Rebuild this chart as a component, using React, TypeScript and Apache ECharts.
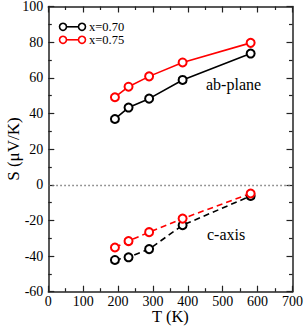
import React, { useEffect, useRef } from "react";
import * as echarts from "echarts";

const temps = [191, 230, 289, 385, 580];
const abX070 = [36.9, 43.3, 48.3, 58.8, 73.6];
const abX075 = [49.1, 55.0, 60.8, 68.6, 79.6];
const cX070 = [-42.2, -40.7, -36.1, -22.7, -6.3];
const cX075 = [-35.2, -31.6, -26.6, -19.0, -4.9];
const legendLabels = ["x=0.70", "x=0.75"];
const xTicks = [0, 100, 200, 300, 400, 500, 600, 700];

const FONT = "Liberation Serif";

function pairs(ys: number[]) {
  return temps.map((t, i) => [t, ys[i]]);
}

export default function App() {
  const ref = useRef<HTMLDivElement>(null);
  useEffect(() => {
    const chart = echarts.init(ref.current!, null, { renderer: "svg" });
    const axisLine = { show: true, onZero: false, lineStyle: { color: "#222", width: 1.5 } };
    const tickStyle = { inside: true, length: 6, lineStyle: { color: "#222", width: 1.2 } };
    const minorStyle = { show: true, splitNumber: 2, length: 3.5, lineStyle: { color: "#222", width: 1.2 } };
    const mk = (name: string, ys: number[], color: string, dashed: boolean, zero = false) => ({
      type: "line",
      name,
      data: pairs(ys),
      symbol: "emptyCircle",
      symbolSize: 8,
      showSymbol: true,
      lineStyle: { color, width: 1.6, type: dashed ? [6, 4] : "solid" },
      itemStyle: { color, borderColor: color, borderWidth: 1.6 },
      z: 3,
      markLine: zero
        ? {
            silent: true,
            symbol: "none",
            label: { show: false },
            lineStyle: { color: "#777", width: 1.4, type: [1.5, 2.5] },
            data: [{ yAxis: 0 }],
          }
        : undefined,
    });
    const legendGraphics: any[] = [];
    [["#000", 26.8], ["#ff0000", 39.8]].forEach(([c, y], i) => {
      legendGraphics.push({
        type: "line",
        shape: { x1: 63, y1: y as number, x2: 82, y2: y as number },
        style: { stroke: c as string, lineWidth: 1.6 },
      });
      [63, 82].forEach((cx) =>
        legendGraphics.push({
          type: "circle",
          shape: { cx, cy: y as number, r: 3.5 },
          style: { stroke: c as string, fill: "#fff", lineWidth: 1.6 },
        })
      );
      legendGraphics.push({
        type: "text",
        x: 89,
        y: y as number,
        style: {
          text: legendLabels[i],
          fill: "#000",
          fontFamily: FONT,
          fontSize: 12.5,
          lineHeight: 11,
          verticalAlign: "middle",
        },
      });
    });
    chart.setOption({
      animation: false,
      backgroundColor: "#fff",
      grid: {
        left: 48.3,
        right: 12.5,
        top: 6.5,
        bottom: 35.3,
        containLabel: false,
        outerBoundsMode: "none",
      },
      xAxis: [
        {
          type: "value",
          min: 0,
          max: 700,
          interval: 100,
          axisLine,
          axisTick: tickStyle,
          minorTick: minorStyle,
          splitLine: { show: false },
          axisLabel: {
            color: "#000",
            fontFamily: FONT,
            fontSize: 14,
            lineHeight: 12,
            margin: 4,
            formatter: (v: number) => (xTicks.includes(v) ? String(v) : ""),
          },
          name: "T (K)",
          nameLocation: "middle",
          nameGap: 18,
          nameMoveOverlap: false,
          nameTextStyle: { color: "#000", fontFamily: FONT, fontSize: 16.5, lineHeight: 14 },
        },
        {
          type: "value",
          position: "top",
          min: 0,
          max: 700,
          interval: 100,
          axisLine,
          axisTick: tickStyle,
          minorTick: minorStyle,
          splitLine: { show: false },
          axisLabel: { show: false },
        },
      ],
      yAxis: [
        {
          type: "value",
          min: -60,
          max: 100,
          interval: 20,
          axisLine,
          axisTick: tickStyle,
          minorTick: minorStyle,
          splitLine: { show: false },
          axisLabel: { color: "#000", fontFamily: FONT, fontSize: 14, margin: 5 },
          name: "S (μV/K)",
          nameLocation: "middle",
          nameGap: 26,
          nameMoveOverlap: false,
          nameTextStyle: { color: "#000", fontFamily: FONT, fontSize: 17 },
        },
        {
          type: "value",
          position: "right",
          min: -60,
          max: 100,
          interval: 20,
          axisLine,
          axisTick: tickStyle,
          minorTick: minorStyle,
          splitLine: { show: false },
          axisLabel: { show: false },
        },
      ],
      series: [
        mk("ab 0.70", abX070, "#000", false, true),
        mk("ab 0.75", abX075, "#ff0000", false),
        mk("c 0.70", cX070, "#000", true),
        mk("c 0.75", cX075, "#ff0000", true),
      ],
      graphic: [
        ...legendGraphics,
        {
          type: "text",
          x: 206,
          y: 84,
          style: { text: "ab-plane", fill: "#000", fontFamily: FONT, fontSize: 16, verticalAlign: "middle" },
        },
        {
          type: "text",
          x: 207,
          y: 234,
          style: { text: "c-axis", fill: "#000", fontFamily: FONT, fontSize: 16, verticalAlign: "middle" },
        },
      ],
    });
    return () => chart.dispose();
  }, []);
  return (
    <div
      ref={ref}
      style={{ position: "absolute", left: 0, top: 0, width: 305, height: 327 }}
    />
  );
}
